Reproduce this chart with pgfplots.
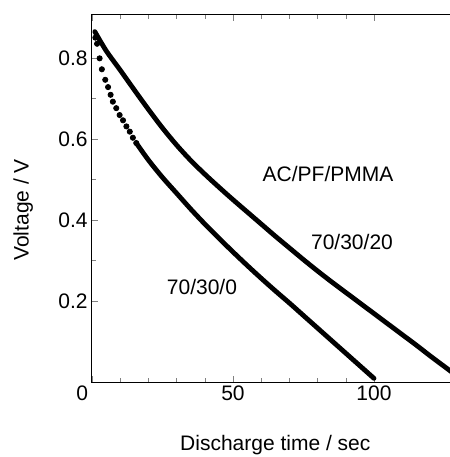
\documentclass[border=0pt]{standalone}
\usepackage{fontspec}
\setmainfont{Liberation Sans}
\usepackage{pgfplots}
\pgfplotsset{compat=1.18}

\begin{document}
\begin{tikzpicture}[font=\fontsize{10.5}{12}\selectfont]
  \begin{axis}[
    scale only axis,
    width=183.3pt, height=183.5pt,
    xmin=0, xmax=130, ymin=0, ymax=0.906,
    axis line style={line width=0.5pt},
    tick align=inside,
    major tick length=3pt, minor tick length=2pt,
    xtick={0,50,100},
    xticklabels={\makebox[0pt][r]{0\kern2pt},50,100},
    ytick={0.2,0.4,0.6,0.8},
    yticklabels={0.2,0.4,0.6,0.8},
    minor x tick num=4,
    minor y tick num=1,
    xticklabel style={inner sep=1.5pt},
    yticklabel style={inner sep=2pt},
    xlabel={Discharge time / sec},
    ylabel={Voltage / V},
    xlabel style={at={(axis description cs:0.5,-0.172)}, anchor=center},
    ylabel style={at={(axis description cs:-0.188,0.469)}, anchor=center},
    /pgf/number format/assume math mode=true,
  ]
    % 70/30/20
    \addplot[black, line width=2.4pt, line cap=round, smooth] coordinates {
      (1.0,0.865) (5,0.818) (10,0.770) (15,0.721) (20,0.673) (25,0.627)
      (30,0.585) (35,0.547) (40,0.513) (45,0.481) (50,0.450) (55,0.420)
      (60,0.390) (65,0.360) (70,0.331) (75,0.302) (80,0.274) (85,0.247)
      (90,0.221) (95,0.195) (100,0.169) (105,0.143) (110,0.117) (115,0.091)
      (120,0.064) (125,0.038) (130,0.012)
    };
    % 70/30/0, dotted start
    \addplot[black, only marks, mark=*, mark size=1.3pt] coordinates {
      (1.2,0.850) (1.8,0.835) (2.7,0.799) (3.5,0.772) (4.7,0.746) (5.7,0.728)
      (6.6,0.709) (7.4,0.692) (8.6,0.676) (9.8,0.659) (11.0,0.646)
      (12.2,0.631) (13.4,0.618) (14.5,0.603) (15.7,0.590)
    };
    \addplot[black, line width=2.4pt, line cap=round, smooth] coordinates {
      (15.7,0.590) (20,0.548) (25,0.505) (30,0.466) (35,0.427) (40,0.390)
      (45,0.355) (50,0.321) (55,0.288) (60,0.256) (65,0.225) (70,0.195)
      (75,0.164) (80,0.133) (85,0.102) (90,0.071) (95,0.040) (100,0.009)
    };
    \node at (axis cs:83.7,0.513) {AC/PF/PMMA};
    \node at (axis cs:92.2,0.346) {70/30/20};
    \node at (axis cs:39,0.235) {70/30/0};
    \coordinate (ll) at (rel axis cs:0,0);
  \end{axis}
  \pgfresetboundingbox
  \path ([shift={(-46pt,-37.5pt)}]ll) rectangle ([shift={(179pt,191pt)}]ll);
\end{tikzpicture}
\end{document}
